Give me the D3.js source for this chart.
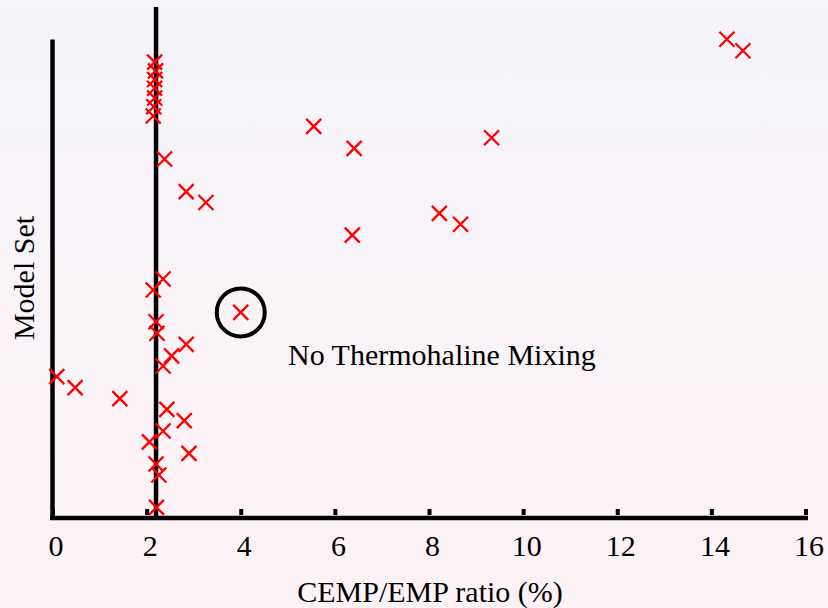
<!DOCTYPE html>
<html>
<head>
<meta charset="utf-8">
<script src="https://cdn.jsdelivr.net/npm/d3@7/dist/d3.min.js"></script>
<style>
html,body{margin:0;padding:0;}
body{width:828px;height:608px;overflow:hidden;}
text{font-family:"Liberation Serif","Times New Roman",serif;}
</style>
</head>
<body>
<svg id="chart" width="828" height="608"></svg>
<script>
// CEMP/EMP ratio (%) for each model set
const ratio = [14.33, 14.67, 2.17, 2.19, 2.17, 2.17, 2.17, 2.15, 2.14, 5.55, 9.33, 6.41, 2.38, 2.84, 3.26, 8.22, 8.67, 6.37, 2.35, 2.14, 4.0, 2.2, 2.22, 2.84, 2.53, 2.35, 0.09, 0.48, 1.43, 2.43, 2.8, 2.35, 2.06, 2.9, 2.2, 2.26, 2.21];
// Model set index (vertical position)
const modelSet = [44.0, 42.95, 41.9, 41.1, 40.3, 39.5, 38.6, 37.8, 36.95, 36.0, 34.95, 33.98, 33.0, 30.0, 29.0, 28.0, 27.0, 26.0, 21.97, 20.96, 18.9, 18.04, 16.98, 15.96, 14.9, 13.97, 13.0, 11.98, 10.97, 9.99, 8.95, 8.0, 7.0, 5.94, 4.96, 3.95, 0.98];
const xTicks = [0, 2, 4, 6, 8, 10, 12, 14, 16];
const refLine = 2.2;              // vertical reference line (ratio %)
const highlighted = {ratio: 4.0, modelSet: 18.9};
const annotation = "No Thermohaline Mixing";
const xLabel = "CEMP/EMP ratio (%)";
const yLabel = "Model Set";

const svg = d3.select("#chart");
const defs = svg.append("defs");
const grad = defs.append("linearGradient").attr("id","bg").attr("x1",0).attr("y1",0).attr("x2",0).attr("y2",1);
grad.append("stop").attr("offset","0%").attr("stop-color","#f5f4fa");
grad.append("stop").attr("offset","100%").attr("stop-color","#fdf2f5");
svg.append("rect").attr("width",828).attr("height",608).attr("fill","url(#bg)");

const x = d3.scaleLinear().domain([0,16]).range([52.5,805.5]);
const y = d3.scaleLinear().domain([0,44]).range([518,39.3]);

// x axis ticks + labels
const xAxis = d3.axisBottom(x).tickValues(xTicks).tickFormat(d3.format("d"))
  .tickSizeInner(-6).tickSizeOuter(0).tickPadding(20);
const gx = svg.append("g").attr("transform","translate(0,515)").call(xAxis);
gx.select(".domain").remove();
gx.selectAll(".tick line").attr("stroke","#000").attr("stroke-width",4);
gx.selectAll(".tick text").attr("font-size",30).attr("fill","#000")
  .attr("font-family","'Liberation Serif','Times New Roman',serif").attr("dx",3);

// axis lines
svg.append("line").attr("x1",50).attr("x2",808).attr("y1",518).attr("y2",518)
  .attr("stroke","#000").attr("stroke-width",4.5);
svg.append("line").attr("x1",x(0)).attr("x2",x(0)).attr("y1",39.5).attr("y2",520)
  .attr("stroke","#000").attr("stroke-width",4.5);

// reference line
svg.append("line").attr("x1",x(refLine)).attr("x2",x(refLine)).attr("y1",7).attr("y2",518)
  .attr("stroke","#000").attr("stroke-width",4.5);

// points
const pts = ratio.map((r,i)=>({r, m: modelSet[i]}));
const s = 7.5;
svg.append("g").selectAll("path").data(pts).join("path")
  .attr("transform", d=>`translate(${x(d.r)},${y(d.m)})`)
  .attr("d", `M${-s},${-s}L${s},${s}M${-s},${s}L${s},${-s}`)
  .attr("stroke","#ff0000").attr("stroke-width",2.3).attr("fill","none");

// highlight circle
svg.append("circle").attr("cx",x(highlighted.ratio)).attr("cy",y(highlighted.modelSet)).attr("r",24)
  .attr("fill","none").attr("stroke","#000").attr("stroke-width",4);

// annotation
svg.append("text").attr("x",288).attr("y",365).attr("font-size",30).attr("fill","#000").text(annotation);

// axis labels
svg.append("text").attr("x",430).attr("y",602).attr("text-anchor","middle").attr("font-size",30).attr("fill","#000").text(xLabel);
svg.append("text").attr("transform","translate(34,278) rotate(-90)").attr("text-anchor","middle").attr("font-size",30).attr("fill","#000").text(yLabel);
</script>
</body>
</html>
